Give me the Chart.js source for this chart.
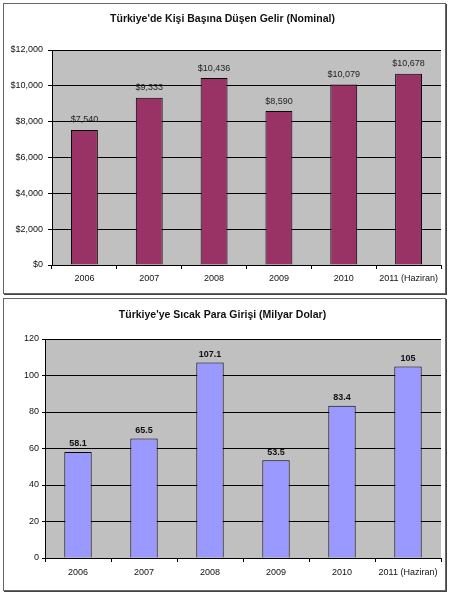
<!DOCTYPE html>
<html>
<head>
<meta charset="utf-8">
<script src="https://cdn.jsdelivr.net/npm/chart.js@4.4.1/dist/chart.umd.min.js"></script>
<style>
  html, body { margin: 0; padding: 0; background: #fff; }
  body { width: 450px; height: 594px; position: relative; overflow: hidden; }
  .box {
    position: absolute; left: 3px; width: 441px;
    border: 1px solid #666; background: #fff;
    box-shadow: 1px 1px 0 #444;
  }
  #box1 { top: 3px; height: 289px; }
  #box2 { top: 298px; height: 291px; }
</style>
</head>
<body>
<div class="box" id="box1"><canvas id="gelir"></canvas></div>
<div class="box" id="box2"><canvas id="sicak"></canvas></div>
<script>
const yillar = ['2006', '2007', '2008', '2009', '2010', '2011 (Haziran)']
const gelir = [7540, 9333, 10436, 8590, 10079, 10678]
const sicakPara = [58.1, 65.5, 107.1, 53.5, 83.4, 105]
const gelirTicks = ['$0', '$2,000', '$4,000', '$6,000', '$8,000', '$10,000', '$12,000']
const sicakTicks = ['0', '20', '40', '60', '80', '100', '120']

const FONT = "'Liberation Sans', Arial, sans-serif"

// gri arka plan (Excel tarzı)
const plotBg = {
  id: 'plotBg',
  beforeDraw(chart) {
    const { ctx, chartArea: a } = chart
    ctx.save()
    ctx.fillStyle = '#c0c0c0'
    ctx.fillRect(a.left, a.top, a.width, a.height)
    ctx.restore()
  }
}

// çubukların üstündeki değerler
const degerYaz = {
  id: 'degerYaz',
  afterDatasetsDraw(chart, args, opts) {
    const { ctx } = chart
    const meta = chart.getDatasetMeta(0)
    const data = chart.data.datasets[0].data
    ctx.save()
    ctx.font = opts.font
    ctx.fillStyle = opts.color
    ctx.textAlign = 'center'
    ctx.textBaseline = 'middle'
    meta.data.forEach((bar, i) => {
      ctx.fillText(opts.format(data[i]), bar.x, bar.y - opts.offset)
    })
    ctx.restore()
  }
}

function grafik(id, baslik, values, renk, tickLabels, step, o) {
  return new Chart(document.getElementById(id), {
    type: 'bar',
    data: {
      labels: yillar,
      datasets: [{
        data: values,
        backgroundColor: renk,
        borderColor: '#000',
        borderWidth: 1,
        borderSkipped: 'bottom',
        barPercentage: 0.415,
        categoryPercentage: 1
      }]
    },
    options: {
      responsive: true,
      maintainAspectRatio: false,
      animation: false,
      layout: { padding: { left: 0, right: 4, top: 0, bottom: 0 } },
      plugins: {
        legend: { display: false },
        tooltip: { enabled: false },
        title: {
          display: true,
          text: baslik,
          color: '#111',
          font: { family: FONT, size: 10.5, weight: 'bold' },
          padding: { top: o.titleTop, bottom: o.titleBottom }
        },
        degerYaz: o.labels
      },
      scales: {
        x: {
          afterFit: s => { s.height = o.xHeight },
          grid: { display: true, drawOnChartArea: false, offset: true, color: '#000', tickLength: 4 },
          border: { color: '#000' },
          ticks: { color: '#111', font: { family: FONT, size: 9 }, padding: o.xPad, maxRotation: 0 }
        },
        y: {
          min: 0,
          max: step * (tickLabels.length - 1),
          afterFit: s => { s.width = o.yWidth },
          grid: { color: '#000', tickLength: o.yTick },
          border: { color: '#000' },
          ticks: {
            stepSize: step,
            color: '#111',
            font: { family: FONT, size: 9 },
            padding: o.yPad,
            callback: (v) => tickLabels[Math.round(v / step)]
          }
        }
      }
    },
    plugins: [plotBg, degerYaz]
  })
}

grafik('gelir', "Türkiye'de Kişi Başına Düşen Gelir (Nominal)", gelir, '#993366', gelirTicks, 2000, {
  titleTop: 8.7, titleBottom: 24.7, xHeight: 28, xPad: 4, yWidth: 48, yTick: 4, yPad: 5,
  labels: {
    font: '9px ' + FONT, color: '#222', offset: 10,
    format: v => '$' + v.toLocaleString('en-US')
  }
})

grafik('sicak', "Türkiye'ye Sıcak Para Girişi (Milyar Dolar)", sicakPara, '#9999ff', sicakTicks, 20, {
  titleTop: 9.7, titleBottom: 17.7, xHeight: 32, xPad: 5, yWidth: 41, yTick: 3, yPad: 3,
  labels: {
    font: 'bold 9px ' + FONT, color: '#111', offset: 8,
    format: v => String(v)
  }
})
</script>
</body>
</html>
